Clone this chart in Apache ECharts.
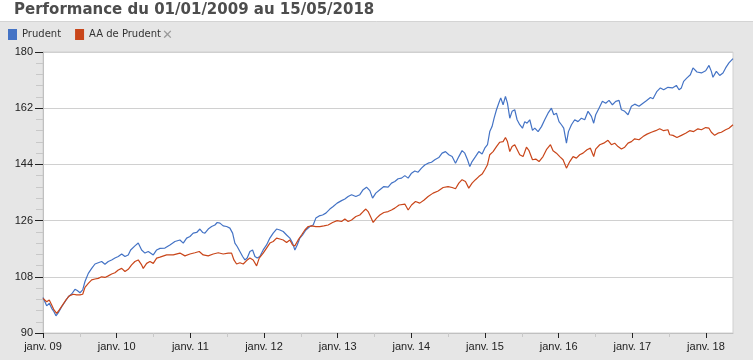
<!DOCTYPE html>
<html>
<head>
<meta charset="utf-8">
<script src="https://cdn.jsdelivr.net/npm/echarts@6/dist/echarts.min.js"></script>
<style>
html,body{margin:0;padding:0;background:#e6e6e6;}
#chart{width:753px;height:360px;}
</style>
</head>
<body>
<div id="chart"></div>
<script>
// ---- data (decimal years, index values) ----
const titleText = 'Performance du 01/01/2009 au 15/05/2018';
const seriesNames = ['Prudent', 'AA de Prudent'];
const yTicks = [90, 108, 126, 144, 162, 180];
const xTickYears = [2009, 2010, 2011, 2012, 2013, 2014, 2015, 2016, 2017, 2018];
const xStart = 2009.0;
const xEnd = 2018.367; // 15/05/2018

const prudentYears = [
2009.000,2009.050,2009.085,2009.118,2009.149,2009.176,2009.208,2009.254,2009.299,2009.343,2009.389,2009.434,2009.465,2009.502,2009.539,2009.570,2009.615,2009.661,2009.706,2009.750,2009.796,2009.841,2009.886,2009.932,2009.977,
2010.022,2010.068,2010.113,2010.157,2010.190,2010.248,2010.293,2010.339,2010.384,2010.429,2010.497,2010.543,2010.588,2010.655,2010.723,2010.791,2010.859,2010.904,2010.950,2010.995,
2011.039,2011.086,2011.130,2011.167,2011.198,2011.243,2011.289,2011.334,2011.365,2011.402,2011.446,2011.493,2011.537,2011.574,2011.605,2011.636,2011.673,2011.710,2011.741,2011.772,2011.809,2011.845,2011.877,2011.908,2011.944,2011.989,
2012.035,2012.080,2012.125,2012.171,2012.216,2012.261,2012.307,2012.351,2012.388,2012.419,2012.451,2012.487,2012.524,2012.569,2012.623,2012.668,2012.704,2012.749,2012.795,2012.840,2012.894,2012.939,2012.993,
2013.053,2013.098,2013.142,2013.189,2013.247,2013.301,2013.346,2013.392,2013.437,2013.474,2013.518,2013.573,2013.627,2013.685,2013.731,2013.776,2013.821,2013.867,2013.912,2013.957,
2014.003,2014.047,2014.092,2014.138,2014.183,2014.228,2014.274,2014.319,2014.373,2014.418,2014.464,2014.509,2014.554,2014.600,2014.645,2014.689,2014.726,2014.763,2014.794,2014.825,2014.871,2014.916,2014.961,2014.997,
2015.034,2015.065,2015.096,2015.124,2015.156,2015.187,2015.214,2015.246,2015.278,2015.305,2015.337,2015.368,2015.404,2015.436,2015.472,2015.509,2015.540,2015.571,2015.608,2015.645,2015.676,2015.721,2015.767,2015.811,2015.856,2015.902,2015.934,2015.970,
2016.005,2016.038,2016.069,2016.106,2016.133,2016.174,2016.218,2016.263,2016.309,2016.354,2016.399,2016.445,2016.476,2016.503,2016.548,2016.594,2016.639,2016.684,2016.730,2016.775,2016.820,2016.852,2016.897,2016.942,2016.988,
2017.033,2017.091,2017.145,2017.191,2017.246,2017.281,2017.335,2017.381,2017.426,2017.484,2017.544,2017.598,2017.634,2017.666,2017.697,2017.742,2017.788,2017.824,2017.878,2017.938,2017.996,
2018.041,2018.073,2018.095,2018.141,2018.186,2018.231,2018.267,2018.312,2018.367
];
const prudentValues = [
101.4,98.7,99.5,97.9,96.8,95.5,96.5,98.4,100.0,101.6,102.5,104.0,103.6,102.9,103.8,106.5,109.1,110.7,112.1,112.5,112.9,112.0,112.9,113.4,114.0,
114.5,115.3,114.5,115.0,116.6,117.9,118.8,116.6,115.6,116.1,115.0,116.6,117.1,117.2,118.2,119.3,119.8,118.8,120.4,120.9,
122.0,122.2,123.3,122.2,122.0,123.3,124.1,124.6,125.4,125.2,124.3,124.1,123.6,122.0,118.8,117.7,116.1,114.5,113.4,114.0,116.1,116.6,114.5,114.0,114.5,116.6,
118.2,120.4,122.0,123.3,123.0,122.5,121.4,120.4,118.8,116.6,118.2,120.4,121.4,123.0,124.1,124.6,126.8,127.5,127.8,128.4,129.7,130.5,131.6,
132.4,132.9,133.7,134.3,133.7,134.3,135.9,136.7,135.6,133.2,134.8,135.9,136.9,136.7,138.0,138.5,139.4,139.6,140.4,139.6,
141.2,141.9,141.5,142.8,143.8,144.4,144.7,145.5,146.2,147.6,148.1,147.1,146.5,144.4,146.5,148.4,147.6,145.5,143.3,144.9,146.5,148.1,147.3,149.2,
150.3,154.5,156.1,158.8,161.5,163.6,165.3,163.1,165.8,163.6,158.8,161.0,161.5,158.3,156.7,155.6,157.7,157.2,158.3,154.9,155.6,154.5,156.1,158.3,160.4,162.0,159.9,160.4,
157.7,156.7,155.6,150.8,154.5,156.7,158.3,157.7,158.8,158.3,161.0,159.4,157.2,159.9,162.0,164.2,163.6,164.5,163.1,164.2,164.5,161.5,161.0,159.9,162.6,
163.3,162.6,163.6,164.4,165.4,165.0,167.4,168.5,167.9,168.7,168.5,169.3,167.9,168.5,170.6,171.7,172.7,174.9,173.6,173.3,174.0,
175.7,173.8,171.9,173.8,172.5,173.3,174.9,176.5,177.9
];

const aaYears = [
2009.000,2009.050,2009.085,2009.118,2009.149,2009.186,2009.221,2009.267,2009.312,2009.357,2009.411,2009.457,2009.502,2009.539,2009.570,2009.615,2009.661,2009.706,2009.750,2009.796,2009.841,2009.886,2009.932,2009.977,
2010.022,2010.068,2010.113,2010.157,2010.203,2010.248,2010.293,2010.339,2010.361,2010.407,2010.452,2010.497,2010.543,2010.588,2010.678,2010.768,2010.859,2010.927,2010.995,
2011.062,2011.121,2011.175,2011.243,2011.311,2011.379,2011.446,2011.514,2011.560,2011.592,2011.628,2011.673,2011.718,2011.764,2011.809,2011.853,2011.900,2011.935,2011.989,
2012.035,2012.080,2012.125,2012.171,2012.216,2012.261,2012.307,2012.351,2012.388,2012.419,2012.464,2012.510,2012.555,2012.600,2012.646,2012.704,2012.758,2012.813,2012.871,2012.931,2012.993,
2013.053,2013.098,2013.142,2013.189,2013.247,2013.301,2013.346,2013.383,2013.414,2013.446,2013.482,2013.528,2013.573,2013.627,2013.685,2013.731,2013.776,2013.834,2013.912,2013.957,
2014.003,2014.057,2014.115,2014.174,2014.228,2014.296,2014.364,2014.432,2014.499,2014.554,2014.600,2014.645,2014.689,2014.735,2014.780,2014.825,2014.871,2014.916,2014.961,2014.997,
2015.034,2015.065,2015.110,2015.156,2015.201,2015.246,2015.278,2015.305,2015.337,2015.368,2015.404,2015.427,2015.472,2015.517,2015.563,2015.598,2015.645,2015.689,2015.734,2015.788,2015.834,2015.889,2015.924,2015.970,
2016.015,2016.060,2016.106,2016.151,2016.196,2016.241,2016.286,2016.331,2016.385,2016.431,2016.476,2016.503,2016.558,2016.612,2016.670,2016.716,2016.761,2016.806,2016.852,2016.897,2016.942,2016.988,
2017.033,2017.091,2017.145,2017.200,2017.259,2017.318,2017.372,2017.426,2017.484,2017.507,2017.552,2017.606,2017.666,2017.724,2017.779,2017.833,2017.891,2017.938,2017.996,
2018.041,2018.073,2018.118,2018.163,2018.209,2018.267,2018.312,2018.367
];
const aaValues = [
101.1,100.0,100.6,99.0,97.4,96.3,97.4,99.0,100.6,101.9,102.4,102.2,102.2,102.4,104.6,105.9,107.0,107.3,107.5,108.0,107.8,108.3,108.9,109.3,
110.2,110.7,109.7,110.4,111.8,112.9,113.4,111.8,110.7,112.3,112.9,112.3,114.0,114.3,115.0,115.0,115.6,114.7,115.3,
115.7,116.1,115.0,114.7,115.3,115.7,115.3,115.6,115.6,113.4,112.1,112.5,112.1,113.2,114.0,113.4,111.5,114.0,115.6,
117.2,118.8,119.3,120.4,120.1,119.8,119.0,119.8,118.2,117.9,119.8,121.4,123.0,124.1,124.3,124.1,124.1,124.3,124.6,125.4,126.0,
125.7,126.5,125.7,126.2,127.3,127.8,128.9,129.7,128.9,127.3,125.4,126.8,127.8,128.6,128.9,129.4,130.0,131.0,131.3,129.4,
131.0,132.1,131.6,132.6,133.7,134.8,135.5,136.6,136.9,136.6,136.2,138.0,139.1,138.5,136.4,138.0,139.1,140.1,140.9,142.3,
143.9,147.1,148.1,149.7,151.1,151.3,152.6,151.3,148.1,149.7,150.3,150.0,147.1,146.5,149.5,148.4,145.5,145.7,144.9,146.5,148.7,150.3,148.4,147.6,
146.5,145.5,142.8,144.9,146.5,146.0,147.1,147.6,148.7,149.2,146.5,148.9,150.3,150.8,151.7,150.3,150.8,149.7,148.9,149.5,150.8,151.3,
152.2,151.9,152.9,153.7,154.3,154.8,155.4,154.8,155.1,153.5,153.3,152.6,153.3,154.0,154.8,154.5,155.4,155.1,155.8,
155.6,154.3,153.3,154.0,154.3,155.1,155.6,156.7
];

// ---- chart ----
const pair = (xs, ys) => xs.map((x, i) => [x, ys[i]]);
const colors = ['#4473c5', '#c9461a'];
const labelFont = "'Liberation Sans', Arial, sans-serif";

const chart = echarts.init(document.getElementById('chart'), null, {renderer: 'canvas'});
chart.setOption({
  animation: false,
  backgroundColor: '#e6e6e6',
  color: colors,
  title: {
    text: titleText,
    left: 14, top: 3, padding: 0,
    textStyle: {fontFamily: "'DejaVu Sans', Verdana, sans-serif", fontWeight: 'bold', fontSize: 15, color: '#4d4d4d'}
  },
  graphic: [
    {type: 'rect', z: -10, shape: {x: 0, y: 0, width: 753, height: 21}, style: {fill: '#ffffff'}},
    {type: 'line', z: -9, shape: {x1: 0, y1: 21.5, x2: 753, y2: 21.5}, style: {stroke: '#d4d4d4', lineWidth: 1}},
    {type: 'text', left: 162, top: 29, style: {text: '✕', fill: '#9a9a9a', font: "bold 13px 'DejaVu Sans', sans-serif"}}
  ],
  legend: {
    data: seriesNames,
    left: 8, top: 29, padding: 0,
    icon: 'rect', itemWidth: 9, itemHeight: 11, itemGap: 14,
    textStyle: {fontFamily: "'DejaVu Sans', Verdana, sans-serif", fontSize: 10, color: '#333'}
  },
  grid: {
    left: 43, right: 20, top: 52, bottom: 27,
    show: true, backgroundColor: '#ffffff', borderColor: '#d0d0d0', borderWidth: 1
  },
  xAxis: {
    type: 'value',
    min: xStart, max: xEnd, interval: 1,
    axisLine: {show: true, lineStyle: {color: '#c0c0c0'}},
    axisTick: {show: true, length: 5, lineStyle: {color: '#222'}, customValues: xTickYears},
    minorTick: {show: true, splitNumber: 2, length: 4, lineStyle: {color: '#c8c8c8'}},
    splitLine: {show: false},
    axisLabel: {
      customValues: xTickYears,
      margin: 8, fontSize: 11, color: '#222', fontFamily: labelFont,
      formatter: v => 'janv. ' + String(Math.round(v)).slice(2)
    }
  },
  yAxis: {
    type: 'value',
    min: yTicks[0], max: yTicks[yTicks.length - 1], interval: 18,
    axisLine: {show: true, lineStyle: {color: '#c0c0c0'}},
    axisTick: {show: true, length: 8, lineStyle: {color: '#222'}},
    minorTick: {show: true, splitNumber: 5, length: 7, lineStyle: {color: '#c8c8c8'}},
    splitLine: {show: true, lineStyle: {color: '#d0d0d0'}},
    axisLabel: {margin: 10, fontSize: 11, color: '#222', fontFamily: labelFont}
  },
  series: [
    {name: seriesNames[0], type: 'line', showSymbol: false, symbol: 'none', data: pair(prudentYears, prudentValues),
     lineStyle: {width: 1.2, color: colors[0]}, z: 2},
    {name: seriesNames[1], type: 'line', showSymbol: false, symbol: 'none', data: pair(aaYears, aaValues),
     lineStyle: {width: 1.2, color: colors[1]}, z: 3}
  ]
});
</script>
</body>
</html>
